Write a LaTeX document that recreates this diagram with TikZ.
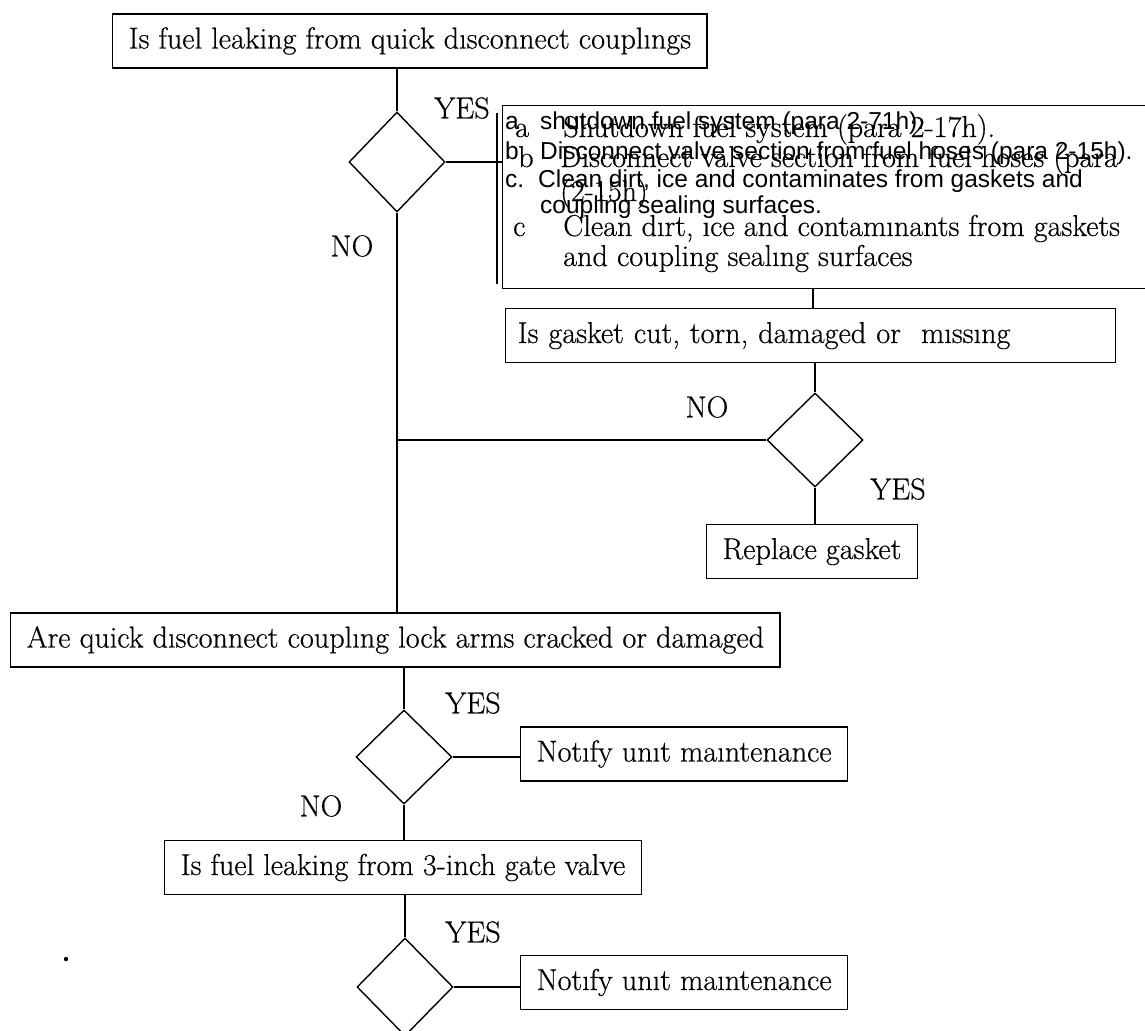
\documentclass[tikz,border=0pt]{standalone}
\usepackage{fontspec}
\newfontfamily\arialfont{Liberation Sans}
\newfontfamily\printfont{Latin Modern Roman}[FakeBold=0.5]
\usetikzlibrary{shapes.geometric}
\begin{document}
\begin{tikzpicture}[x=1pt,y=-1pt,
  every node/.style={inner sep=0pt},
  serif/.style={font=\printfont\fontsize{30.2}{36}\selectfont},
  ovtxt/.style={serif, anchor=base west},
  sanstxt/.style={font=\arialfont\fontsize{24.5}{28}\selectfont, anchor=base west},
  box/.style={draw, line width=1.4pt, serif, inner xsep=16pt, minimum height=54pt,
              text height=21pt, text depth=6pt},
  dec/.style={draw, line width=1.4pt, diamond, minimum width=96pt, inner sep=0pt},
  lbl/.style={serif},
  link/.style={line width=1.4pt}
]
\useasboundingbox (0,0) rectangle (1145,1030);
\fill[white] (0,0) rectangle (1145,1030);

% first question
\node[box, anchor=west] (q1) at (112,41) {Is fuel leaking from quick dısconnect couplıngs};
\node[dec, minimum height=100pt] (d1) at (397,162) {};
\node[lbl] (y1) at (462,108) {YES};
\node[lbl] (n1) at (352,246) {NO};

% action list (box runs off the right edge)
\node[draw, line width=1.4pt, minimum width=700pt, minimum height=183pt, anchor=north west] (steps) at (502,105) {};
\coordinate (barT) at (497,113);
\coordinate (barB) at (497,284);
\draw[link] (barT) -- (barB);

% typed list
\node[sanstxt] (sa) at (505,129) {a};
\node[sanstxt] (sat) at (540,129) {shutdown fuel system (para 2-71h).};
\node[sanstxt] (sb) at (505,159) {b.};
\node[sanstxt] (sbt) at (540,159) {Disconnect valve section from fuel hoses (para 2-15h).};
\node[sanstxt] (sc) at (505,187) {c.};
\node[sanstxt] (sct) at (538,187) {Clean dirt, ice and contaminates from gaskets and};
\node[sanstxt] (sct2) at (540,213) {coupling sealing surfaces.};

% printed list
\node[ovtxt] (pa) at (515,137) {a};
\node[ovtxt] (pat) at (563,137) {Shutdown fuel system (para 2-17h).};
\node[ovtxt] (pb) at (518,167) {b};
\node[ovtxt] (pbt) at (560,167) {Disconnect valve section from fuel hoses (para};
\node[ovtxt] (pbt2) at (560,201) {(2-15h)};
\node[ovtxt] (pc) at (513,236) {c};
\node[ovtxt] (pct) at (563,236) {Clean dırt, ıce and contamınants from gaskets};
\node[ovtxt] (pct2) at (563,266) {and coupling sealıng surfaces};

% gasket check
\node[box, anchor=west, minimum width=610pt, text width=586pt, inner xsep=12pt, align=left] (gask) at (505,335.5) {Is gasket cut, torn, damaged or \ mıssıng};
\node[dec, minimum height=94pt] (d2) at (815,440) {};
\node[lbl] (n2) at (707,407) {NO};
\node[lbl] (y2) at (898,489) {YES};
\node[box, anchor=west] (repl) at (706,551.5) {Replace gasket};

% lock arms
\node[box, anchor=west] (q2) at (10,640) {Are quick dısconnect couplıng lock arms cracked or damaged};
\node[dec, minimum height=94pt] (d3) at (404,757) {};
\node[lbl] (y3) at (473,703) {YES};
\node[lbl] (n3) at (321,806) {NO};
\node[box, anchor=west] (note1) at (520,754) {Notıfy unıt maıntenance};

% gate valve
\node[box] (gate) at (403,867.5) {Is fuel leaking from 3-inch gate valve};
\node[dec, minimum height=98pt] (d4) at (405,987) {};
\node[lbl] (y4) at (473,932) {YES};
\node[box, anchor=west] (note2) at (520,982.5) {Notıfy unıt maıntenance};

\fill (66,959) circle (2.2);

% connectors
\draw[link] (d1.north |- q1.south) -- (d1.north);
\draw[link] (d1.east) -- (d1.east -| steps.west);
\draw[link] (d1.south) -- (d1.south |- q2.north);
\draw[link] (d2.west) -- (d2.west -| d1.south);
\coordinate (gj) at (813,288);
\draw[link] (gj) -- (gj |- gask.north);
\draw[link] (d2.north |- gask.south) -- (d2.north);
\draw[link] (d2.south) -- (d2.south |- repl.north);
\draw[link] (d3.north |- q2.south) -- (d3.north);
\draw[link] (d3.east) -- (d3.east -| note1.west);
\draw[link] (d3.south) -- (d3.south |- gate.north);
\draw[link] (d4.north |- gate.south) -- (d4.north);
\draw[link] (d4.east) -- (d4.east -| note2.west);
\end{tikzpicture}
\end{document}
